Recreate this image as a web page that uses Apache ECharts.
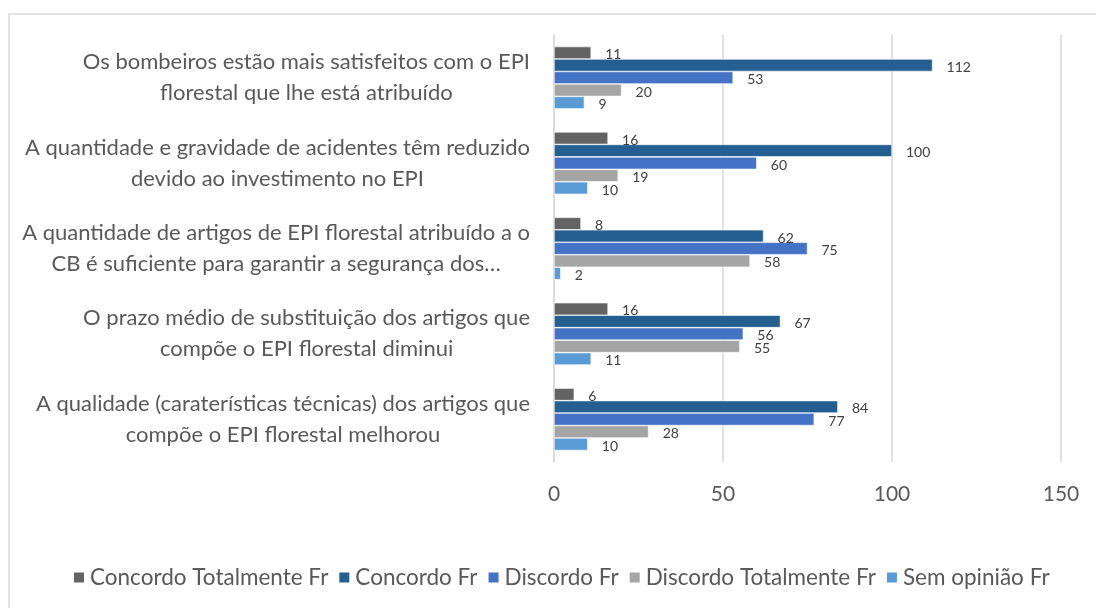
<!DOCTYPE html>
<html>
<head>
<meta charset="utf-8">
<script src="https://cdn.jsdelivr.net/npm/echarts@6/dist/echarts.min.js"></script>
<style>
html, body { margin: 0; padding: 0; background: #fff; }
#chart { width: 1096px; height: 608px; }
</style>
</head>
<body>
<div id="chart"></div>
<script>
const categories = [
    'Os bombeiros estão mais satisfeitos com o EPI\nflorestal que lhe está atribuído',
    'A quantidade e gravidade de acidentes têm reduzido\ndevido ao investimento no EPI',
    'A quantidade de artigos de EPI florestal atribuído a o\nCB é suficiente para garantir a segurança dos…',
    'O prazo médio de substituição dos artigos que\ncompõe o EPI florestal diminui',
    'A qualidade (caraterísticas técnicas) dos artigos que\ncompõe o EPI florestal melhorou'
]
const seriesNames = ['Concordo Totalmente Fr', 'Concordo Fr', 'Discordo Fr', 'Discordo Totalmente Fr', 'Sem opinião Fr']
const concordoTotalmente = [11, 16, 8, 16, 6]
const concordo = [112, 100, 62, 67, 84]
const discordo = [53, 60, 75, 56, 77]
const discordoTotalmente = [20, 19, 58, 55, 28]
const semOpiniao = [9, 10, 2, 11, 10]
const xTicks = [0, 50, 100, 150]

const colors = ['#636363', '#255e91', '#4472c4', '#a5a5a5', '#5b9bd5']
const font = 'Lato, "Open Sans", sans-serif'
const allData = [concordoTotalmente, concordo, discordo, discordoTotalmente, semOpiniao]

const option = {
    animation: false,
    color: colors,
    textStyle: { fontFamily: font },
    graphic: [{
        type: 'rect',
        shape: { x: 9, y: 14, width: 1200, height: 700 },
        style: { fill: 'none', stroke: '#d9d9d9', lineWidth: 1.5 },
        silent: true
    }],
    legend: {
        bottom: 14,
        left: 67,
        itemWidth: 12,
        itemHeight: 12,
        itemGap: 9,
        icon: 'rect',
        textStyle: { fontSize: 22.5, color: '#595959', fontFamily: font },
        data: seriesNames
    },
    grid: {
        left: 554,
        right: 35,
        top: 35,
        bottom: 146,
        containLabel: false
    },
    xAxis: {
        type: 'value',
        min: xTicks[0],
        max: xTicks[xTicks.length - 1],
        interval: 50,
        axisLine: { show: false },
        axisTick: { show: false },
        splitLine: { lineStyle: { color: '#d9d9d9', width: 1.5 } },
        axisLabel: { fontSize: 21, color: '#595959', margin: 22, fontFamily: font }
    },
    yAxis: {
        type: 'category',
        inverse: true,
        data: categories,
        axisLine: { show: true, lineStyle: { color: '#d9d9d9', width: 1.5 } },
        axisTick: { show: false },
        axisLabel: {
            margin: 24,
            formatter: v => v.split('\n').map(l => '{c|' + l + '}').join('\n'),
            rich: {
                c: { align: 'center', fontSize: 22, lineHeight: 31, color: '#595959', fontFamily: font }
            }
        }
    },
    series: seriesNames.map((name, i) => ({
        name: name,
        type: 'bar',
        data: allData[i],
        barGap: '0%',
        barCategoryGap: '27%',
        itemStyle: { color: colors[i], borderColor: '#ffffff', borderWidth: 0.6 },
        label: {
            show: true,
            position: 'right',
            distance: 14,
            offset: [0, 2],
            fontSize: 14,
            color: '#404040',
            fontFamily: font
        }
    }))
}

const myChart = echarts.init(document.getElementById('chart'))
myChart.setOption(option)
</script>
</body>
</html>
